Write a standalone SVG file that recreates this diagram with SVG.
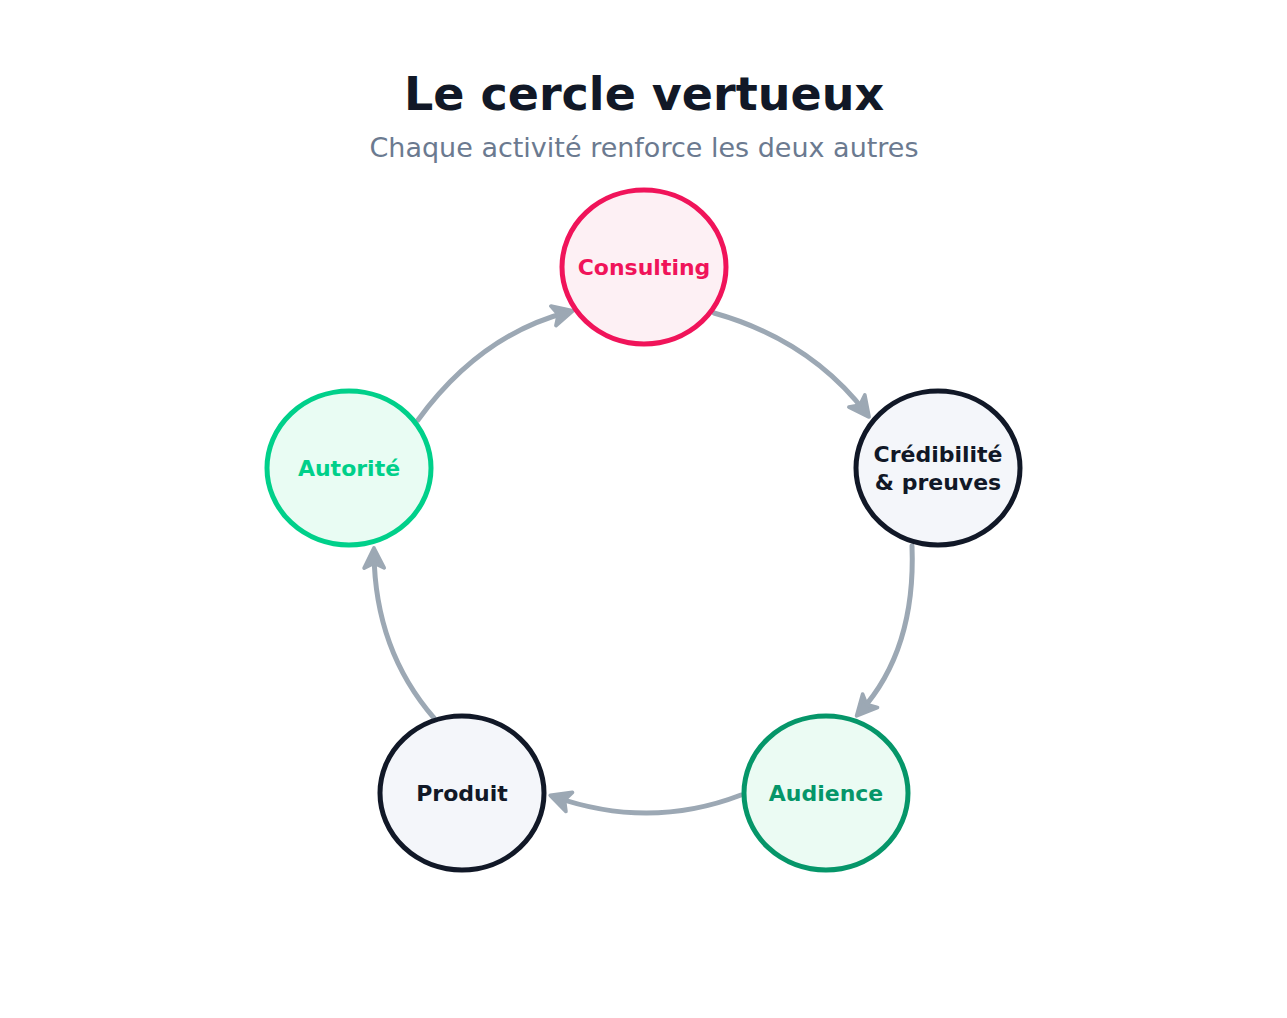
<svg xmlns="http://www.w3.org/2000/svg" width="1287" height="1018" viewBox="0 0 1287 1018">
<style>
.t{font-family:"DejaVu Sans",sans-serif;font-weight:bold;font-size:22px;text-anchor:middle;dominant-baseline:central}
.c{fill:none;stroke:#9ca8b4;stroke-width:5;stroke-linecap:round;marker-end:url(#a)}
</style>
<defs><marker id="a" viewBox="0 0 10 10" refX="7" refY="5" markerWidth="5" markerHeight="5" orient="auto" markerUnits="strokeWidth"><path d="M1,1 L9,5 L1,9 L3,5 Z" fill="#9ca8b4" stroke="#9ca8b4" stroke-width="1.5" stroke-linejoin="round"/></marker></defs>
<rect width="1287" height="1018" fill="#fff"/>
<text x="644" y="110" font-family="DejaVu Sans,sans-serif" font-weight="bold" font-size="46" fill="#111827" text-anchor="middle">Le cercle vertueux</text>
<text x="644" y="157" font-family="DejaVu Sans,sans-serif" font-size="27" fill="#6b7a90" text-anchor="middle">Chaque activité renforce les deux autres</text>
<g id="connectors">
<path class="c" d="M714,313 Q810,340 866,413"/>
<path class="c" d="M912,546 Q916,650 860,712"/>
<path class="c" d="M741,795 Q650,830 555,797"/>
<path class="c" d="M434,718 Q375,650 374,553"/>
<path class="c" d="M418,420 Q480,335 568,312"/>
</g>
<g id="consulting"><ellipse cx="644" cy="267" rx="82" ry="77" fill="#fdf0f4" stroke="#f0145a" stroke-width="5"/><text class="t" x="644" y="267" fill="#f0145a">Consulting</text></g>
<g id="credibilite"><ellipse cx="938" cy="468" rx="82" ry="77" fill="#f4f6fa" stroke="#111827" stroke-width="5"/><text class="t" x="938" y="454" fill="#111827">Crédibilité</text><text class="t" x="938" y="482" fill="#111827">&amp; preuves</text></g>
<g id="audience"><ellipse cx="826" cy="793" rx="82" ry="77" fill="#ebfbf3" stroke="#059669" stroke-width="5"/><text class="t" x="826" y="793" fill="#059669">Audience</text></g>
<g id="produit"><ellipse cx="462" cy="793" rx="82" ry="77" fill="#f4f6fa" stroke="#111827" stroke-width="5"/><text class="t" x="462" y="793" fill="#111827">Produit</text></g>
<g id="autorite"><ellipse cx="349" cy="468" rx="82" ry="77" fill="#e9fcf3" stroke="#00d08a" stroke-width="5"/><text class="t" x="349" y="468" fill="#00d08a">Autorité</text></g>
</svg>
